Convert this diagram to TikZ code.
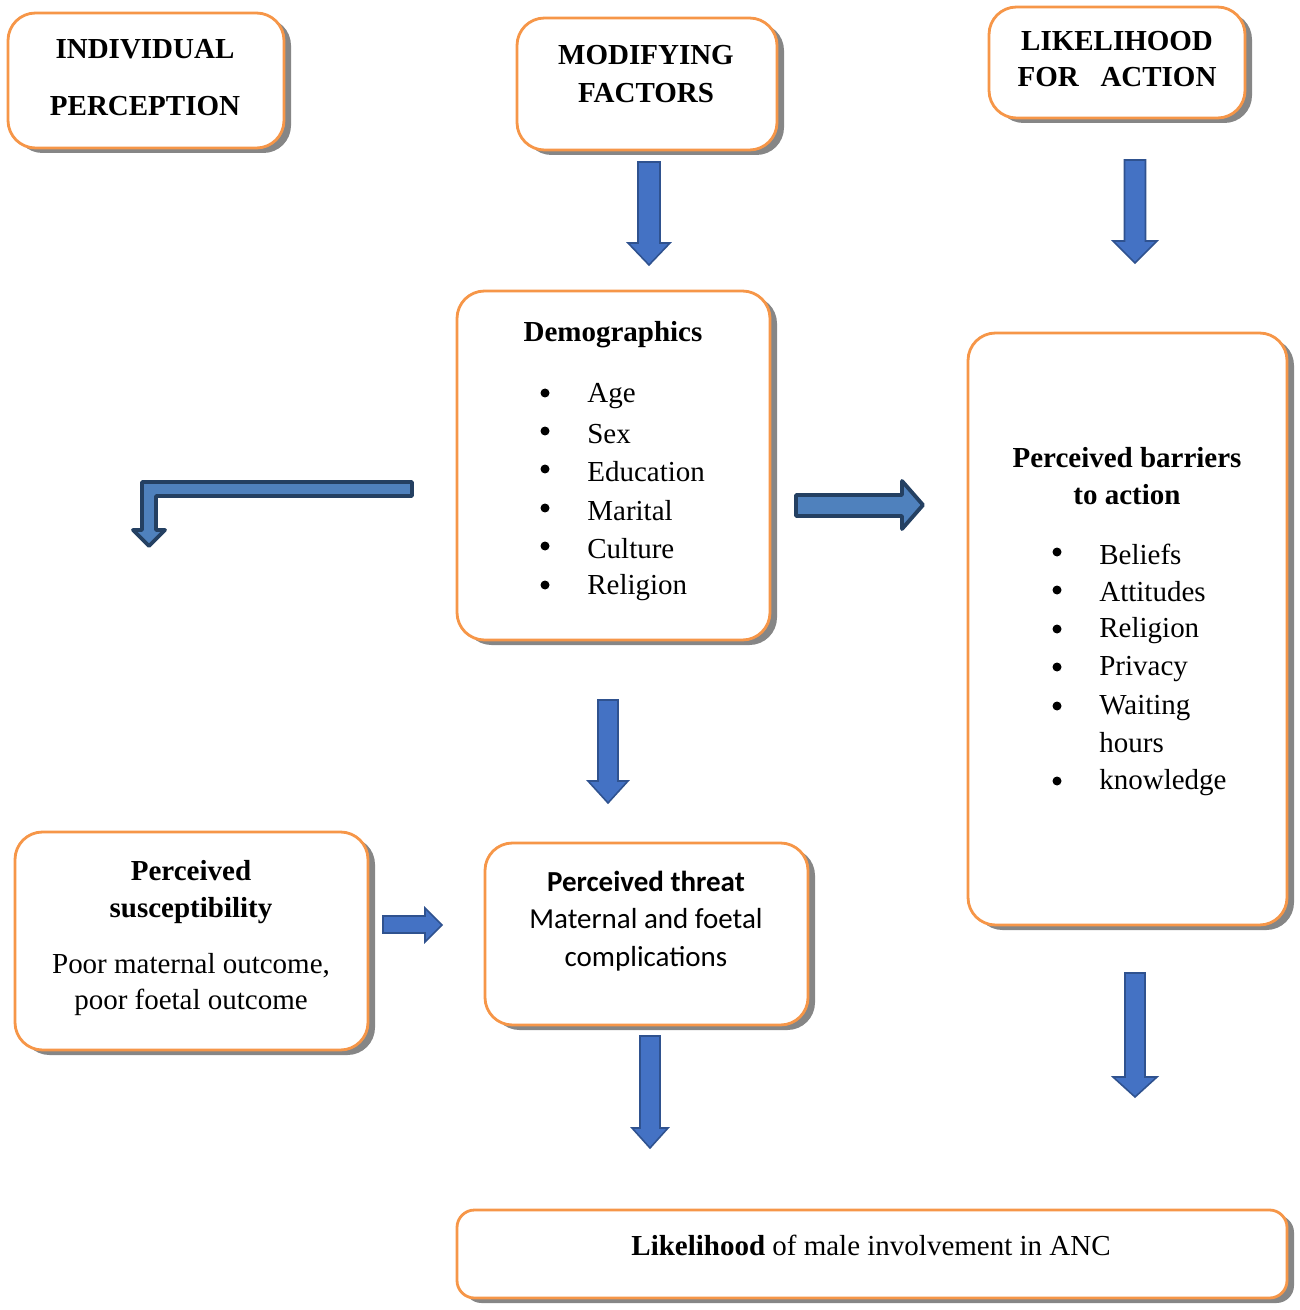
\documentclass[tikz,border=0pt]{standalone}
\usepackage{fontspec}
\setmainfont{Liberation Serif}
\newfontfamily\calibrifont{Carlito}
\usepackage{tikz}
\usetikzlibrary{positioning,fit,shadows}
\definecolor{boxorange}{RGB}{246,150,72}
\definecolor{arrowblue}{RGB}{68,114,196}
\definecolor{arrowedge}{RGB}{47,82,143}
\definecolor{bigblue}{RGB}{79,129,189}
\definecolor{bigedge}{RGB}{36,64,98}
\tikzset{
  box/.style={draw=boxorange,line width=1.6pt,fill=white,rounded corners=0.55cm,inner sep=0pt,
    drop shadow={shadow xshift=0.14cm,shadow yshift=-0.1cm,fill=gray!95,opacity=1}},
  txt/.style={inner sep=0pt,font=\fontsize{16.5}{21.5}\selectfont,align=center},
  item/.style={txt,anchor=west},
  dot/.style={circle,fill=black,inner sep=0pt,minimum size=0.18cm},
  blk/.style={fill=arrowblue,draw=arrowedge,line width=0.9pt},
  bigblk/.style={fill=bigblue,draw=bigedge,line width=2.2pt,line join=round},
}
% block arrow pointing down: centre x, top y, tip y, shaft half width, head half width, head length
\newcommand{\downblock}[6]{
  \draw[blk] ({#1-#4},#2) -- ({#1+#4},#2) -- ({#1+#4},{#3-#6}) -- ({#1+#5},{#3-#6})
    -- (#1,#3) -- ({#1-#5},{#3-#6}) -- ({#1-#4},{#3-#6}) -- cycle;
}

\begin{document}
\begin{tikzpicture}[x=0.02cm,y=-0.02cm]
\useasboundingbox (0,0) rectangle (1299,1310);

% header boxes
\node[box,fit={(8,13) (284,148)}] (ip) {};
\node[txt,font=\fontsize{16.5}{21.5}\selectfont\bfseries] (ip1) at (145,49) {INDIVIDUAL};
\node[txt,font=\fontsize{16.5}{21.5}\selectfont\bfseries] (ip2) at (145,106) {PERCEPTION};

\node[box,fit={(517,18) (777,150)}] (mf) {};
\node[txt,font=\fontsize{16.5}{21.5}\selectfont\bfseries] (mftxt) at (646,74) {MODIFYING\\FACTORS};

\node[box,fit={(989,7) (1245,118)}] (lfa) {};
\node[txt,font=\fontsize{16.5}{20}\selectfont\bfseries] (lfatxt) at (1117,59) {LIKELIHOOD\\FOR\ \ \ ACTION};

% demographics
\node[box,fit={(457,291) (770,640)}] (demo) {};
\node[txt,font=\fontsize{16.5}{21.5}\selectfont\bfseries] (demohead) at (613,335) {Demographics};
\foreach \y/\lab [count=\i] in {393/Age,431/Sex,469/Education,508/Marital,546/Culture,585/Religion}{
  \node[dot] (db\i) at (545,\y) {};
  \node[item] (d\i) at (587,\y+3) {\lab};
}

% barriers
\node[box,fit={(968,333) (1287,925)}] (bar) {};
\node[txt,font=\fontsize{16.5}{21.5}\selectfont\bfseries] (barhead) at (1127,476) {Perceived barriers\\[-0.5pt]to action};
\foreach \y/\lab [count=\i] in {552/Beliefs,590/Attitudes,629/Religion,667/Privacy,706/Waiting,781/knowledge}{
  \node[dot] (bb\i) at (1057,\y) {};
  \node[item] (b\i) at (1099,\y+2) {\lab};
}
\node[item] (b5b) at (1099,743) {hours};

% susceptibility and threat
\node[box,fit={(15,832) (368,1050)}] (sus) {};
\node[txt,font=\fontsize{16.5}{21.5}\selectfont\bfseries] (sushead) at (191,892) {Perceived\\susceptibility};
\node[txt,font=\fontsize{16.5}{20.5}\selectfont] (sustxt) at (191,985) {Poor maternal outcome,\\poor foetal outcome};

\node[box,fit={(485,843) (808,1025)}] (thr) {};
\node[txt,font=\fontsize{16.5}{21.5}\calibrifont\selectfont] (thrtxt) at (646,921) {\textbf{Perceived threat}\\Maternal and foetal\\complications};

% outcome
\node[box,rounded corners=0.35cm,fit={(457,1210) (1287,1298)}] (lik) {};
\node[txt] (liktxt) at (871,1245) {\textbf{Likelihood} of male involvement in ANC};

% block arrows
\downblock{649}{162}{265}{11}{21}{22}
\downblock{1135}{160}{263}{10.5}{22}{22}
\downblock{608}{700}{803}{10}{20}{22}
\downblock{650}{1036}{1148}{10}{18}{20}
\downblock{1135}{973}{1097}{10}{22}{20}
\draw[blk] (383,916) -- (425,916) -- (425,908) -- (442,925) -- (425,942) -- (425,933) -- (383,933) -- cycle;
\draw[bigblk] (796,495) -- (902,495) -- (902,481) -- (923,505) -- (902,529) -- (902,516) -- (796,516) -- cycle;
\draw[bigblk] (412,482) -- (142,482) -- (142,530) -- (133,530) -- (149,546) -- (165,530) -- (156,530) -- (156,496) -- (412,496) -- cycle;
\end{tikzpicture}
\end{document}
